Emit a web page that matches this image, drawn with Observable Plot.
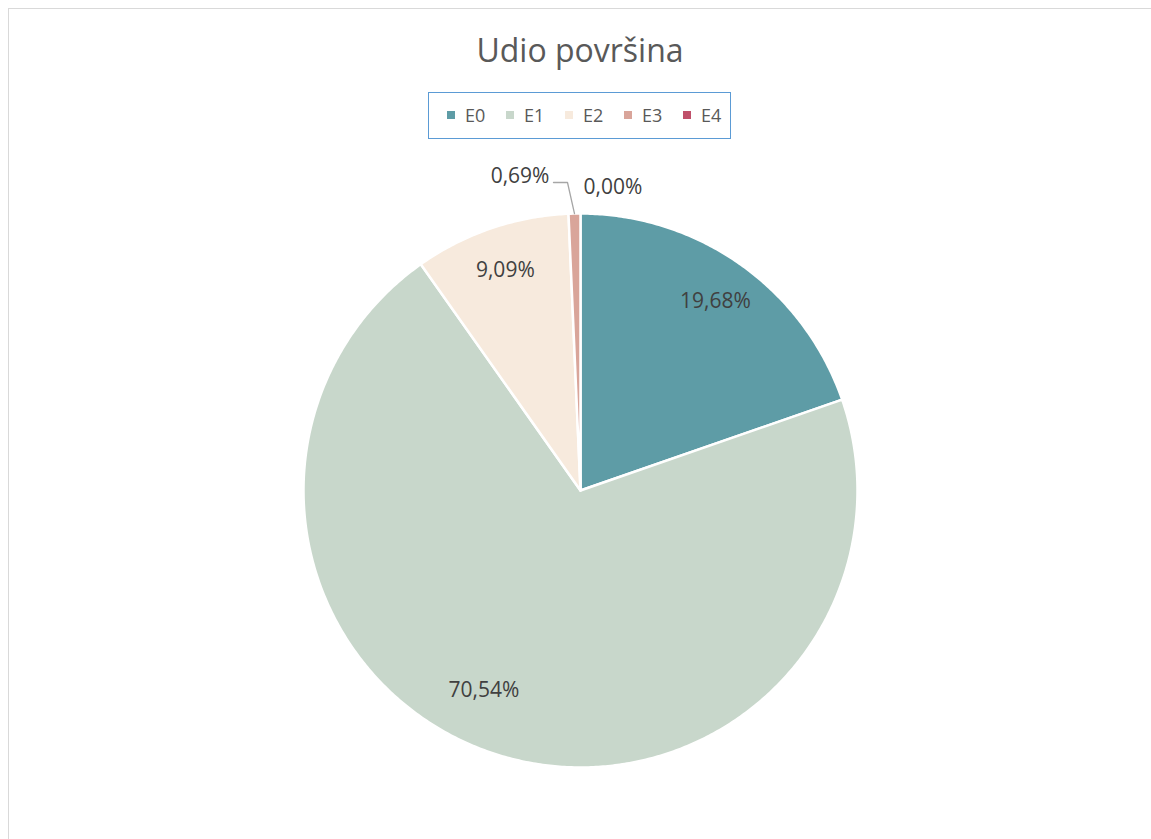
<!DOCTYPE html>
<html>
<head>
<meta charset="utf-8">
<script src="https://cdn.jsdelivr.net/npm/d3@7"></script>
<script src="https://cdn.jsdelivr.net/npm/@observablehq/plot@0.6"></script>
<style>
  html, body { margin: 0; padding: 0; background: #fff; overflow: hidden; }
  body { width: 1151px; height: 839px; position: relative; font-family: "Open Sans", sans-serif; }
  #frame { position: absolute; left: 8px; top: 8px; width: 1200px; height: 900px; border-left: 1px solid #d9d9d9; border-top: 1px solid #d9d9d9; }
  #title { position: absolute; left: 0; top: 28px; width: 1160px; text-align: center; font-size: 32px; color: #595959; line-height: 44px; }
  #legend { position: absolute; left: 428px; top: 92px; box-sizing: border-box; width: 303px; height: 47px; border: 1.5px solid #5B9BD5; }
  .item { position: absolute; top: 0; height: 44px; display: flex; align-items: center; font-size: 18px; color: #595959; }
  .sw { width: 8px; height: 8px; margin-right: 10px; }
  #chart { position: absolute; left: 0; top: 150px; }
</style>
</head>
<body>
<div id="frame"></div>
<div id="title"></div>
<div id="legend"></div>
<div id="chart"></div>
<script>
const chartTitle = "Udio površina";
const categories = ["E0", "E1", "E2", "E3", "E4"];
const shares = [19.68, 70.54, 9.09, 0.69, 0.00];
const labels = ["19,68%", "70,54%", "9,09%", "0,69%", "0,00%"];
const colors = ["#5E9CA6", "#C8D7CB", "#F7EADD", "#D9A59A", "#C0506A"];

document.getElementById("title").textContent = chartTitle;
const leg = document.getElementById("legend");
categories.forEach((c, i) => {
  const it = document.createElement("div");
  it.className = "item";
  it.style.left = (18 + 59 * i) + "px";
  const sw = document.createElement("span");
  sw.className = "sw";
  sw.style.background = colors[i];
  it.appendChild(sw);
  it.appendChild(document.createTextNode(c));
  leg.appendChild(it);
});

const W = 1151, H = 689, R = 277, CX = 580, CY = 340;
const total = d3.sum(shares);
// slices from 12 o'clock, clockwise
let cum = 0;
const slices = categories.map((c, i) => {
  const a0 = cum / total * 2 * Math.PI;
  cum += shares[i];
  const a1 = cum / total * 2 * Math.PI;
  return {cat: c, a0, a1, mid: (a0 + a1) / 2, label: labels[i], share: shares[i]};
});
const pt = (a, r) => ({x: r * Math.sin(a), y: r * Math.cos(a)});

const pts = [];
for (const s of slices) {
  if (s.share <= 0) continue;
  pts.push({cat: s.cat, x: 0, y: 0});
  const n = Math.max(2, Math.ceil((s.a1 - s.a0) / (Math.PI / 360)));
  for (let k = 0; k <= n; k++) {
    const a = s.a0 + (s.a1 - s.a0) * k / n;
    pts.push({cat: s.cat, ...pt(a, 1)});
  }
}

// inside labels (best-fit style: the large slice's label sits a bit further along)
const big = slices.filter(s => s.share >= 2).map(s => {
  const a = s.share > 50 ? s.mid + 0.14 : s.mid;
  return {...s, ...pt(a, s.share > 50 ? 0.80 : 0.84)};
});
const small = slices.filter(s => s.share < 2);
const leaderPts = [];
const smallLabels = [];
small.forEach(s => {
  if (s.share > 0) {
    const p0 = pt(s.mid, 1);
    const p1 = {x: p0.x - 7 / R, y: 308 / R};
    const p2 = {x: p1.x - 14 / R, y: p1.y};
    leaderPts.push({cat: s.cat, ...p0}, {cat: s.cat, ...p1}, {cat: s.cat, ...p2});
    smallLabels.push({label: s.label, x: p2.x, y: p2.y, anchor: "end"});
  } else {
    const p = pt(s.mid, 1.094);
    smallLabels.push({label: s.label, x: p.x, y: p.y, anchor: "start"});
  }
});

const chart = Plot.plot({
  width: W,
  height: H,
  margin: 0,
  x: {domain: [-CX / R, (W - CX) / R], range: [0, W], axis: null},
  y: {domain: [-(H - CY) / R, CY / R], range: [H, 0], axis: null},
  color: {domain: categories, range: colors},
  style: {fontFamily: "Open Sans, sans-serif"},
  marks: [
    Plot.line(pts, {x: "x", y: "y", z: "cat", fill: "cat", stroke: "white", strokeWidth: 2.5, strokeLinejoin: "round", curve: "linear-closed"}),
    Plot.line(leaderPts, {x: "x", y: "y", z: "cat", stroke: "#A6A6A6", strokeWidth: 1.3}),
    Plot.text(big, {x: "x", y: "y", text: "label", fontSize: 21, fill: "#404040"}),
    Plot.text(smallLabels.filter(d => d.anchor === "end"), {x: "x", y: "y", text: "label", textAnchor: "end", dx: -4, dy: -6, fontSize: 21, fill: "#404040"}),
    Plot.text(smallLabels.filter(d => d.anchor === "start"), {x: "x", y: "y", text: "label", textAnchor: "start", dx: 3, fontSize: 21, fill: "#404040"})
  ]
});
document.getElementById("chart").appendChild(chart);
</script>
</body>
</html>
